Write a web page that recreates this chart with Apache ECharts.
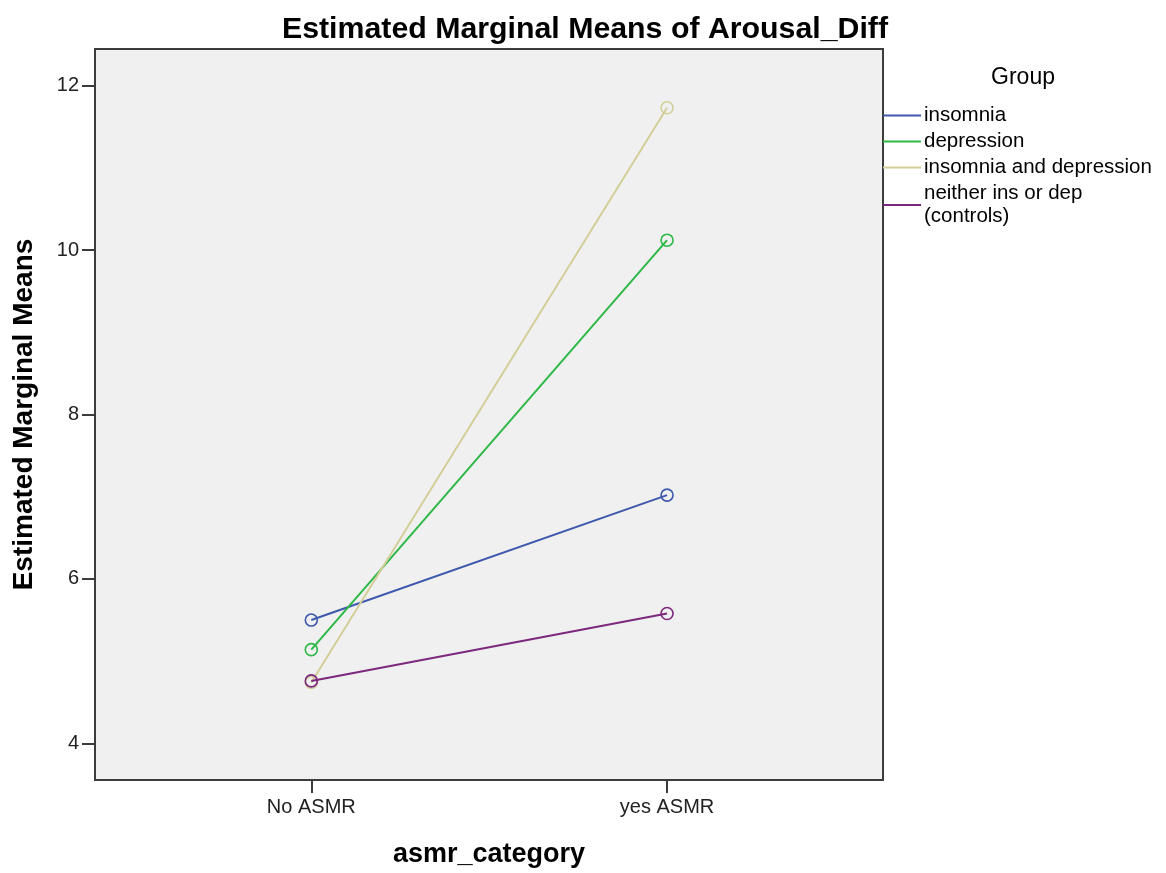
<!DOCTYPE html>
<html>
<head>
<meta charset="utf-8">
<script src="https://cdn.jsdelivr.net/npm/echarts@6/dist/echarts.min.js"></script>
<style>
html,body{margin:0;padding:0;background:#fff;}
#chart{width:1166px;height:873px;}
</style>
</head>
<body>
<div id="chart"></div>
<script>
const categories = ['No ASMR', 'yes ASMR'];
const groupNames = ['insomnia', 'depression', 'insomnia and depression', 'neither ins or dep\n(controls)'];
const insomnia = [5.50, 7.02];
const depression = [5.14, 10.12];
const insomniaAndDepression = [4.74, 11.73];
const controls = [4.76, 5.58];
const yTicks = [4, 6, 8, 10, 12];

const colors = ['#3E58AC', '#2EB848', '#D3CE97', '#7C287D'];
const seriesValues = [insomnia, depression, insomniaAndDepression, controls];
const FONT = "'Liberation Sans', Arial, sans-serif";

const chart = echarts.init(document.getElementById('chart'), null, {renderer: 'canvas'});

const series = seriesValues.map((vals, i) => ({
  name: groupNames[i],
  type: 'line',
  data: vals.map((v, j) => [j, v]),
  symbol: 'circle',
  symbolSize: 12,
  lineStyle: {color: colors[i], width: 2},
  itemStyle: {color: 'rgba(0,0,0,0)', borderColor: colors[i], borderWidth: 1.6},
  emphasis: {disabled: true},
  z: 2 + i
}));

chart.setOption({
  animation: false,
  backgroundColor: '#ffffff',
  title: {
    text: 'Estimated Marginal Means of Arousal_Diff',
    left: 580, top: 10, textAlign: 'center',
    textStyle: {fontFamily: FONT, fontWeight: 'bold', fontSize: 30.3, color: '#000'}
  },
  legend: {
    orient: 'vertical',
    left: 883, top: 104,
    padding: 0,
    icon: 'rect',
    itemWidth: 38, itemHeight: 2,
    itemGap: 3,
    textStyle: {fontFamily: FONT, fontSize: 20.5, color: '#000', lineHeight: 23, padding: [0,0,0,-2]},
    data: groupNames.map((n, i) => ({name: n, itemStyle: {color: colors[i], borderWidth: 0}})),
    selectedMode: false
  },
  graphic: [{
    type: 'text', x: 1023, y: 66,
    style: {text: 'Group', fontFamily: FONT, fontSize: 23, fill: '#000', textAlign: 'center'}
  }],
  grid: {
    left: 95, right: 283, top: 49, bottom: 92,
    show: true, backgroundColor: '#F0F0F0', borderColor: '#3c3c3c', borderWidth: 2
  },
  xAxis: {
    type: 'value',
    min: -0.608, max: 1.607,
    name: 'asmr_category',
    nameLocation: 'middle', nameGap: 61,
    nameTextStyle: {fontFamily: FONT, fontWeight: 'bold', fontSize: 27, color: '#000'},
    axisLine: {show: true, onZero: false, lineStyle: {color: '#3c3c3c', width: 2}},
    axisTick: {show: true, length: 13, lineStyle: {color: '#3c3c3c', width: 2}, customValues: [0, 1]},
    axisLabel: {
      customValues: [0, 1], margin: 17,
      fontFamily: FONT, fontSize: 20, color: '#222',
      formatter: v => categories[Math.round(v)] || ''
    },
    splitLine: {show: false}
  },
  yAxis: {
    type: 'value',
    min: 3.555, max: 12.445,
    name: 'Estimated Marginal Means',
    nameLocation: 'middle', nameGap: 57, nameRotate: 90,
    nameTextStyle: {fontFamily: FONT, fontWeight: 'bold', fontSize: 28, color: '#000'},
    axisLine: {show: true, onZero: false, lineStyle: {color: '#3c3c3c', width: 2}},
    axisTick: {show: true, length: 13, lineStyle: {color: '#3c3c3c', width: 2}, customValues: yTicks},
    axisLabel: {
      customValues: yTicks, margin: 16,
      fontFamily: FONT, fontSize: 20, color: '#222'
    },
    splitLine: {show: false}
  },
  series: series
});
</script>
</body>
</html>
